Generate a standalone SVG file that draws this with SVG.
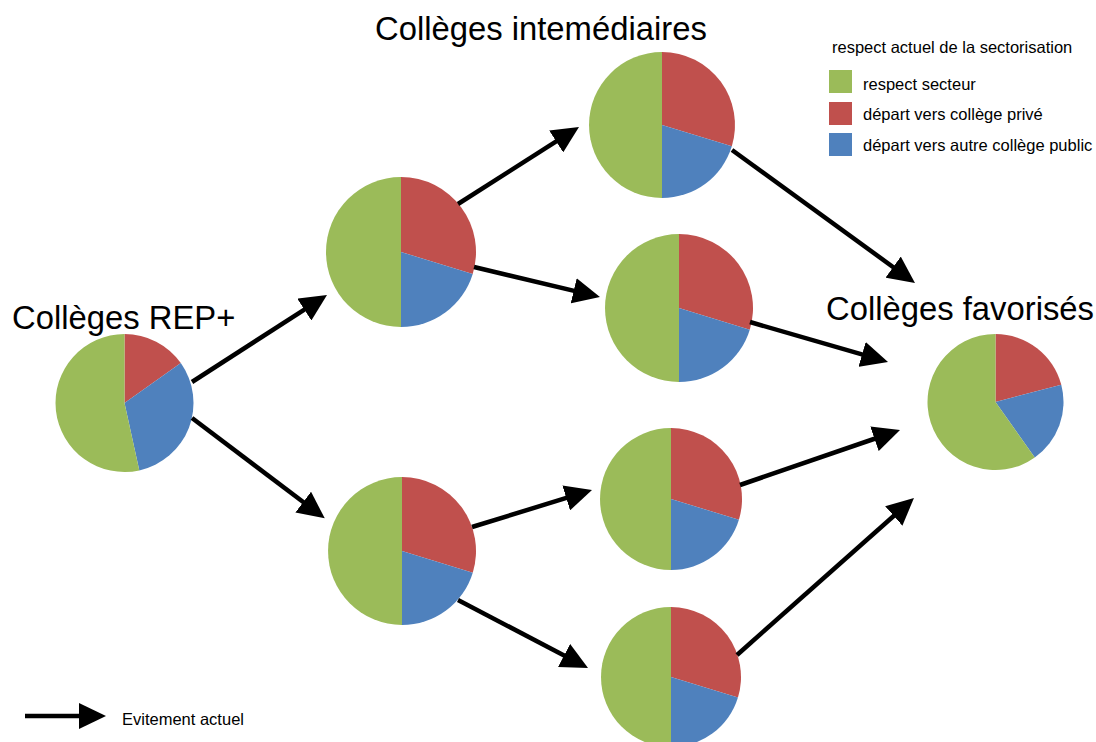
<svg xmlns="http://www.w3.org/2000/svg" width="1096" height="742" viewBox="0 0 1096 742">
<style>
.g{fill:#9BBB59}.r{fill:#C0504D}.b{fill:#4F81BD}
.title{font-family:"Liberation Sans",Arial,sans-serif;font-size:32.8px;fill:#000}
.leg{font-family:"Liberation Sans",Arial,sans-serif;font-size:16.5px;fill:#000}
.arr{stroke:#000;stroke-width:4.5;fill:none;marker-end:url(#ah)}
</style>
<defs>
<marker id="ah" markerUnits="userSpaceOnUse" viewBox="0 0 27 26" refX="7" refY="13" markerWidth="27" markerHeight="26" orient="auto">
<path d="M0,0 L27,13 L0,26 Z" fill="#000"/>
</marker>
</defs>
<rect width="1096" height="742" fill="#fff"/>

<g id="label-rep"><text class="title" x="12" y="329">Collèges REP+</text></g>
<g id="label-intermediaires"><text class="title" x="375" y="40">Collèges intemédiaires</text></g>
<g id="label-favorises"><text class="title" x="826" y="320">Collèges favorisés</text></g>

<g id="pie-rep">
<path class="r" d="M124.5,403 L124.5,334 A69,69 0 0 1 180.81,363.12 Z"/>
<path class="b" d="M124.5,403 L180.81,363.12 A69,69 0 0 1 139.32,470.39 Z"/>
<path class="g" d="M124.5,403 L139.32,470.39 A69,69 0 1 1 124.5,334 Z"/>
</g>

<g id="pie-inter-1">
<path class="r" d="M401,252 L401,177 A75,75 0 0 1 472.72,273.93 Z"/>
<path class="b" d="M401,252 L472.72,273.93 A75,75 0 0 1 401,327 Z"/>
<path class="g" d="M401,252 L401,327 A75,75 0 0 1 401,177 Z"/>
</g>

<g id="pie-inter-2">
<path class="r" d="M402,551 L402,477 A74,74 0 0 1 472.77,572.64 Z"/>
<path class="b" d="M402,551 L472.77,572.64 A74,74 0 0 1 402,625 Z"/>
<path class="g" d="M402,551 L402,625 A74,74 0 0 1 402,477 Z"/>
</g>

<g id="pie-inter-3">
<path class="r" d="M662,125 L662,52 A73,73 0 0 1 731.81,146.35 Z"/>
<path class="b" d="M662,125 L731.81,146.35 A73,73 0 0 1 662,198 Z"/>
<path class="g" d="M662,125 L662,198 A73,73 0 0 1 662,52 Z"/>
</g>

<g id="pie-inter-4">
<path class="r" d="M679,308 L679,234 A74,74 0 0 1 749.77,329.64 Z"/>
<path class="b" d="M679,308 L749.77,329.64 A74,74 0 0 1 679,382 Z"/>
<path class="g" d="M679,308 L679,382 A74,74 0 0 1 679,234 Z"/>
</g>

<g id="pie-inter-5">
<path class="r" d="M671,499 L671,428 A71,71 0 0 1 738.9,519.76 Z"/>
<path class="b" d="M671,499 L738.9,519.76 A71,71 0 0 1 671,570 Z"/>
<path class="g" d="M671,499 L671,570 A71,71 0 0 1 671,428 Z"/>
</g>

<g id="pie-inter-6">
<path class="r" d="M671,677 L671,607 A70,70 0 0 1 737.94,697.47 Z"/>
<path class="b" d="M671,677 L737.94,697.47 A70,70 0 0 1 671,747 Z"/>
<path class="g" d="M671,677 L671,747 A70,70 0 0 1 671,607 Z"/>
</g>

<g id="pie-favorises">
<path class="r" d="M995.5,402 L995.5,334 A68,68 0 0 1 1061.28,384.74 Z"/>
<path class="b" d="M995.5,402 L1061.28,384.74 A68,68 0 0 1 1034.78,457.51 Z"/>
<path class="g" d="M995.5,402 L1034.78,457.51 A68,68 0 1 1 995.5,334 Z"/>
</g>

<g id="connectors">
<path class="arr" d="M192,382 L310.2,305.8"/>
<path class="arr" d="M192,418 L308.8,506.3"/>
<path class="arr" d="M458,204 L562.1,137.7"/>
<path class="arr" d="M474,267 L580.5,292.4"/>
<path class="arr" d="M732,150 L898.8,271.2"/>
<path class="arr" d="M750,322 L868.8,356.4"/>
<path class="arr" d="M740,485 L881.1,436.5"/>
<path class="arr" d="M737,655 L899,511.3"/>
<path class="arr" d="M472,527 L572.9,495.9"/>
<path class="arr" d="M458,600 L570.3,658.7"/>
</g>

<g id="legend-sectorisation">
<text class="leg" x="832" y="53">respect actuel de la sectorisation</text>
<rect class="g" x="829" y="70" width="23" height="23"/>
<text class="leg" x="863" y="90">respect secteur</text>
<rect class="r" x="829" y="102" width="23" height="23"/>
<text class="leg" x="863" y="120">départ vers collège privé</text>
<rect class="b" x="829" y="133" width="23" height="23"/>
<text class="leg" x="863" y="151">départ vers autre collège public</text>
</g>

<g id="legend-evitement">
<path class="arr" d="M25,716 L86,716"/>
<text class="leg" x="122" y="725">Evitement actuel</text>
</g>
</svg>
